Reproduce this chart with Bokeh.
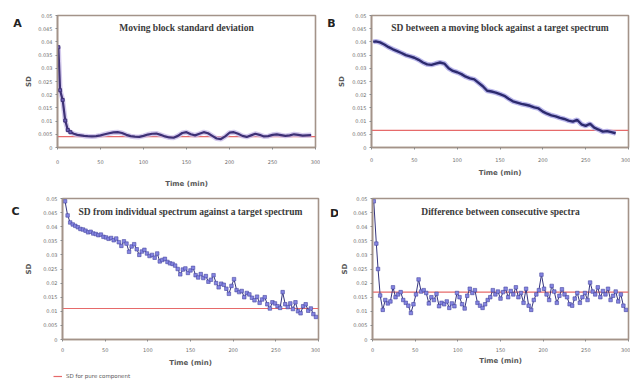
from bokeh.plotting import figure
from bokeh.layouts import column, row
from bokeh.models import Range1d, FixedTicker, Label, Legend, LegendItem
from bokeh.embed import file_html
from bokeh.resources import INLINE

# ---------------- data ----------------
x_ticks = [0, 50, 100, 150, 200, 250, 300]
y_ticks = [0, 0.005, 0.01, 0.015, 0.02, 0.025, 0.03, 0.035, 0.04, 0.045, 0.05]
y_labels = ["0", "0.005", "0.01", "0.015", "0.02", "0.025", "0.03", "0.035", "0.04", "0.045", "0.05"]
x_limits = [0, 300]

titles = ["Moving block standard deviation",
          "SD between a moving block against a target spectrum",
          "SD from individual spectrum against a target spectrum",
          "Difference between consecutive spectra"]
letters = ["A", "B", "C", "D"]
pure_sd = [0.0041, 0.0065, 0.011, 0.0168]
legend_text = "SD for pure component"

tA = [1, 3, 6, 9, 12, 15, 19, 23, 27, 31, 35,
      40, 45, 50, 55, 60, 65, 70, 75, 80, 85,
      90, 95, 100, 105, 110, 115, 120, 125, 130, 135,
      140, 145, 150, 155, 160, 165, 170, 175, 180, 185,
      190, 195, 200, 205, 210, 215, 220, 225, 230, 235,
      240, 245, 250, 255, 260, 265, 270, 275, 280, 285,
      290, 295]
sdA = [0.038, 0.0217, 0.018, 0.0102, 0.0066, 0.0058, 0.0052, 0.0048, 0.0046, 0.0044, 0.0043,
       0.0042, 0.0043, 0.0046, 0.0050, 0.0054, 0.0057, 0.0058, 0.0055, 0.0048, 0.0043,
       0.0041, 0.0040, 0.0044, 0.0049, 0.0052, 0.0053, 0.0048, 0.0042, 0.0038, 0.0037,
       0.0044, 0.0055, 0.0058, 0.0050, 0.0046, 0.0052, 0.0058, 0.0054, 0.0044, 0.0034,
       0.0032, 0.0042, 0.0056, 0.0058, 0.0052, 0.0044, 0.0040, 0.0046, 0.0052, 0.0048,
       0.0042, 0.0043, 0.0048, 0.0050, 0.0047, 0.0044, 0.0046, 0.0050, 0.0048, 0.0045,
       0.0046, 0.0047]

tB = [2, 5, 10, 15, 20, 25, 30, 35, 40, 45, 50,
      55, 60, 65, 70, 75, 80, 85, 90, 95, 100,
      105, 110, 115, 120, 125, 130, 135, 140, 145, 150,
      155, 160, 165, 170, 175, 180, 185, 190, 195, 200,
      205, 210, 215, 220, 225, 230, 235, 240, 245, 250,
      255, 260, 265, 270, 275, 280, 285]
sdB = [0.0400, 0.0402, 0.0398, 0.0390, 0.0380, 0.0372, 0.0365, 0.0358, 0.0350, 0.0345, 0.0340,
       0.0332, 0.0322, 0.0315, 0.0313, 0.0318, 0.0322, 0.0318, 0.0300, 0.0290, 0.0285,
       0.0278, 0.0268, 0.0262, 0.0258, 0.0245, 0.0232, 0.0215, 0.0212, 0.0208, 0.0202,
       0.0196, 0.0185, 0.0175, 0.0170, 0.0165, 0.0162, 0.0158, 0.0152, 0.0148, 0.0136,
       0.0128, 0.0122, 0.0118, 0.0112, 0.0108, 0.0102, 0.0098, 0.0105, 0.0088, 0.0082,
       0.0090, 0.0075, 0.0068, 0.0060, 0.0062, 0.0058, 0.0054]

tC = [3, 6, 9, 12, 15, 18, 21, 24, 27, 30, 33, 36, 39, 42, 45, 48, 51, 54, 57, 60,
      63, 66, 69, 72, 75, 78, 81, 84, 87, 90, 93, 96, 99, 102, 105, 108, 111, 114, 117, 120,
      123, 126, 129, 132, 135, 138, 141, 144, 147, 150, 153, 156, 159, 162, 165, 168, 171, 174, 177, 180,
      183, 186, 189, 192, 195, 198, 201, 204, 207, 210, 213, 216, 219, 222, 225, 228, 231, 234, 237, 240,
      243, 246, 249, 252, 255, 258, 261, 264, 267, 270, 273, 276, 279, 282, 285, 288, 291, 294, 297]
sdC = [0.0490, 0.0440, 0.0415, 0.0408, 0.0403, 0.0398, 0.0392, 0.0390, 0.0386, 0.0380,
       0.0382, 0.0376, 0.0374, 0.0370, 0.0372, 0.0364, 0.0362, 0.0357, 0.0360, 0.0352,
       0.0358, 0.0345, 0.0332, 0.0348, 0.0340, 0.0311, 0.0330, 0.0338, 0.0320, 0.0300,
       0.0312, 0.0318, 0.0305, 0.0296, 0.0300, 0.0290, 0.0305, 0.0277, 0.0282, 0.0286,
       0.0275, 0.0270, 0.0268, 0.0262, 0.0250, 0.0231, 0.0248, 0.0252, 0.0236, 0.0245,
       0.0254, 0.0228, 0.0220, 0.0232, 0.0218, 0.0225, 0.0205, 0.0212, 0.0228, 0.0200,
       0.0185, 0.0198, 0.0194, 0.0180, 0.0162, 0.0190, 0.0214, 0.0175, 0.0168, 0.0172,
       0.0150, 0.0165, 0.0160, 0.0148, 0.0139, 0.0152, 0.0130, 0.0142, 0.0150, 0.0125,
       0.0110, 0.0132, 0.0128, 0.0118, 0.0112, 0.0168, 0.0125, 0.0115, 0.0128, 0.0108,
       0.0132, 0.0100, 0.0093, 0.0118, 0.0125, 0.0102, 0.0110, 0.0090, 0.0080]

tD = [1.5, 4.5, 6.5, 9, 12,
      15, 18, 21, 24, 27, 30, 33, 36, 39, 42, 45, 48, 51, 54, 57, 60,
      63, 66, 69, 72, 75, 78, 81, 84, 87, 90, 93, 96, 99, 102, 105, 108, 111, 114, 117, 120,
      123, 126, 129, 132, 135, 138, 141, 144, 147, 150, 153, 156, 159, 162, 165, 168, 171, 174, 177, 180,
      183, 186, 189, 192, 195, 198, 201, 204, 207, 210, 213, 216, 219, 222, 225, 228, 231, 234, 237, 240,
      243, 246, 249, 252, 255, 258, 261, 264, 267, 270, 273, 276, 279, 282, 285, 288, 291, 294, 297]
sdD = [0.0490, 0.0340, 0.0250, 0.0156, 0.0105,
       0.0140, 0.0128, 0.0135, 0.0185, 0.0150, 0.0160, 0.0168, 0.0140, 0.0130, 0.0120,
       0.0094, 0.0125, 0.0160, 0.0213, 0.0170, 0.0175,
       0.0165, 0.0128, 0.0150, 0.0140, 0.0162, 0.0118, 0.0130, 0.0125, 0.0135, 0.0112,
       0.0128, 0.0118, 0.0165, 0.0150, 0.0125, 0.0110, 0.0155, 0.0180, 0.0165, 0.0175,
       0.0130, 0.0120, 0.0112, 0.0125, 0.0140, 0.0150, 0.0175, 0.0160, 0.0170, 0.0145,
       0.0168, 0.0180, 0.0150, 0.0172, 0.0160, 0.0185, 0.0150, 0.0165, 0.0130, 0.0180,
       0.0120, 0.0105, 0.0140, 0.0160, 0.0175, 0.0230, 0.0180, 0.0160, 0.0140, 0.0190,
       0.0170, 0.0130, 0.0155, 0.0178, 0.0160, 0.0150, 0.0125, 0.0120, 0.0145, 0.0165,
       0.0130, 0.0150, 0.0165, 0.0140, 0.0202, 0.0170, 0.0160, 0.0185, 0.0150, 0.0172,
       0.0160, 0.0180, 0.0140, 0.0155, 0.0170, 0.0135, 0.0160, 0.0120, 0.0105]

# ---------------- styling ----------------
FRAME = "#a39389"
RED = "#e66a6a"


def blank_fig(w, h, x_range, y_range):
    f = figure(width=w, height=h, output_backend="svg", toolbar_location=None,
               x_axis_type=None, y_axis_type=None,
               x_range=x_range, y_range=y_range,
               min_border_left=0, min_border_right=0, min_border_top=0, min_border_bottom=0)
    f.outline_line_color = None
    f.xgrid.visible = False
    f.ygrid.visible = False
    f.border_fill_color = "white"
    f.background_fill_color = "white"
    return f


def letter_fig(w, h, idx, cx, cy):
    # the letter strip's ranges are its own pixel extent, so the label sits at (cx, cy)
    f = blank_fig(w, h, Range1d(0, w), Range1d(0, h))
    f.add_layout(Label(x=cx, y=cy, text=letters[idx], text_align="center",
                       text_baseline="middle", text_font="DejaVu Sans",
                       text_font_size="11px", text_font_style="bold",
                       text_color="#222222"))
    return f


def make_fig(w, h, mb, idx, tick_sd, xlab_sd, ylab_sd):
    p = figure(width=w, height=h, output_backend="svg", toolbar_location=None,
               x_range=Range1d(x_limits[0], x_limits[1]), y_range=Range1d(0, 0.05),
               min_border_left=mb[0], min_border_right=mb[1],
               min_border_top=mb[2], min_border_bottom=mb[3])
    p.xgrid.visible = False
    p.ygrid.visible = False
    p.outline_line_color = FRAME
    p.outline_line_width = 1.6
    p.background_fill_color = "white"
    p.border_fill_color = "white"
    p.xaxis.ticker = FixedTicker(ticks=x_ticks)
    p.yaxis.ticker = FixedTicker(ticks=y_ticks)
    p.yaxis.major_label_overrides = {v: s for v, s in zip(y_ticks, y_labels)}
    for ax in (p.xaxis[0], p.yaxis[0]):
        ax.axis_line_color = FRAME
        ax.axis_line_width = 1.6
        ax.major_tick_line_color = "#8a8a8a"
        ax.major_tick_out = 2
        ax.major_tick_in = 0
        ax.minor_tick_line_color = None
        ax.major_label_text_font_size = "5px"
        ax.major_label_text_color = "#6e6e6e"
        ax.major_label_text_font = "DejaVu Sans"
        ax.axis_label_text_font_size = "7px"
        ax.axis_label_text_font_style = "bold"
        ax.axis_label_text_color = "#5a5a5a"
        ax.axis_label_text_font = "DejaVu Sans"
    p.xaxis.axis_label = "Time (min)"
    p.yaxis.axis_label = "SD"
    p.xaxis.major_label_standoff = tick_sd
    p.xaxis.axis_label_standoff = xlab_sd
    p.yaxis.major_label_standoff = 3
    p.yaxis.axis_label_standoff = ylab_sd
    p.add_layout(Label(x=150, y=0.0452, text=titles[idx], text_align="center",
                       text_baseline="middle", text_font="Liberation Serif",
                       text_font_size="9.5px", text_font_style="bold", text_color="#3a3a3a"))
    p.line(x=x_limits, y=[pure_sd[idx], pure_sd[idx]], line_color=RED, line_width=1.2)
    return p


# ---- row 1 ----
fA = letter_fig(22, 190, 0, 17, 178)
pA = make_fig(298, 190, (35, 5, 15, 37), 0, 10, 13, 2)
pA.line(tA, sdA, line_color="#c9bde9", line_width=5, line_alpha=0.8)
pA.line(tA, sdA, line_color="#3e3176", line_width=2.2)
pA.scatter(tA[:6], sdA[:6], marker="square", size=3, fill_color="#6b5db5", line_color="#3e3176")

fB = letter_fig(15, 190, 1, 11, 178)
pB = make_fig(295, 190, (35, 2, 15, 35), 1, 8, 4, 3)
pB.line(tB, sdB, line_color="#a9a5e6", line_width=5, line_alpha=0.8)
pB.line(tB, sdB, line_color="#2c2a6e", line_width=2.4)

# ---- row 2 ----
fC = letter_fig(20, 179, 2, 15, 162)
pC = make_fig(300, 179, (42, 2, 7, 27), 2, 6, 4, 7)
pC.line(tC, sdC, line_color="#34347e", line_width=1)
pC.scatter(tC, sdC, marker="square", size=3.5, fill_color="#8585e2", line_color="#4848a0", line_width=0.6)

fD = letter_fig(18, 179, 3, 14, 160)
pD = make_fig(292, 179, (34, 2, 8, 25), 3, 6, 2, 1)
pD.line(tD, sdD, line_color="#34347e", line_width=1)
pD.scatter(tD, sdD, marker="square", size=3.5, fill_color="#8585e2", line_color="#4848a0", line_width=0.6)

# ---- row 3: legend strip ----
fL = blank_fig(630, 15, Range1d(x_limits[0], x_limits[1]), Range1d(0.05, 0.06))
ref_sample = fL.line(x=x_limits, y=[pure_sd[2], pure_sd[2]], line_color=RED, line_width=1.2)
leg = Legend(items=[LegendItem(label=legend_text, renderers=[ref_sample])],
             location=(53, 5), glyph_width=9, glyph_height=6,
             label_height=6, label_width=0,
             label_text_font="DejaVu Sans", label_text_font_size="5.5px",
             label_text_color="#555555",
             label_standoff=4, padding=0, margin=0, spacing=0,
             border_line_color=None, background_fill_alpha=0)
fL.add_layout(leg)

layout = column(row(fA, pA, fB, pB), row(fC, pC, fD, pD), fL)
open("out.html", "w").write(file_html(layout, INLINE))
